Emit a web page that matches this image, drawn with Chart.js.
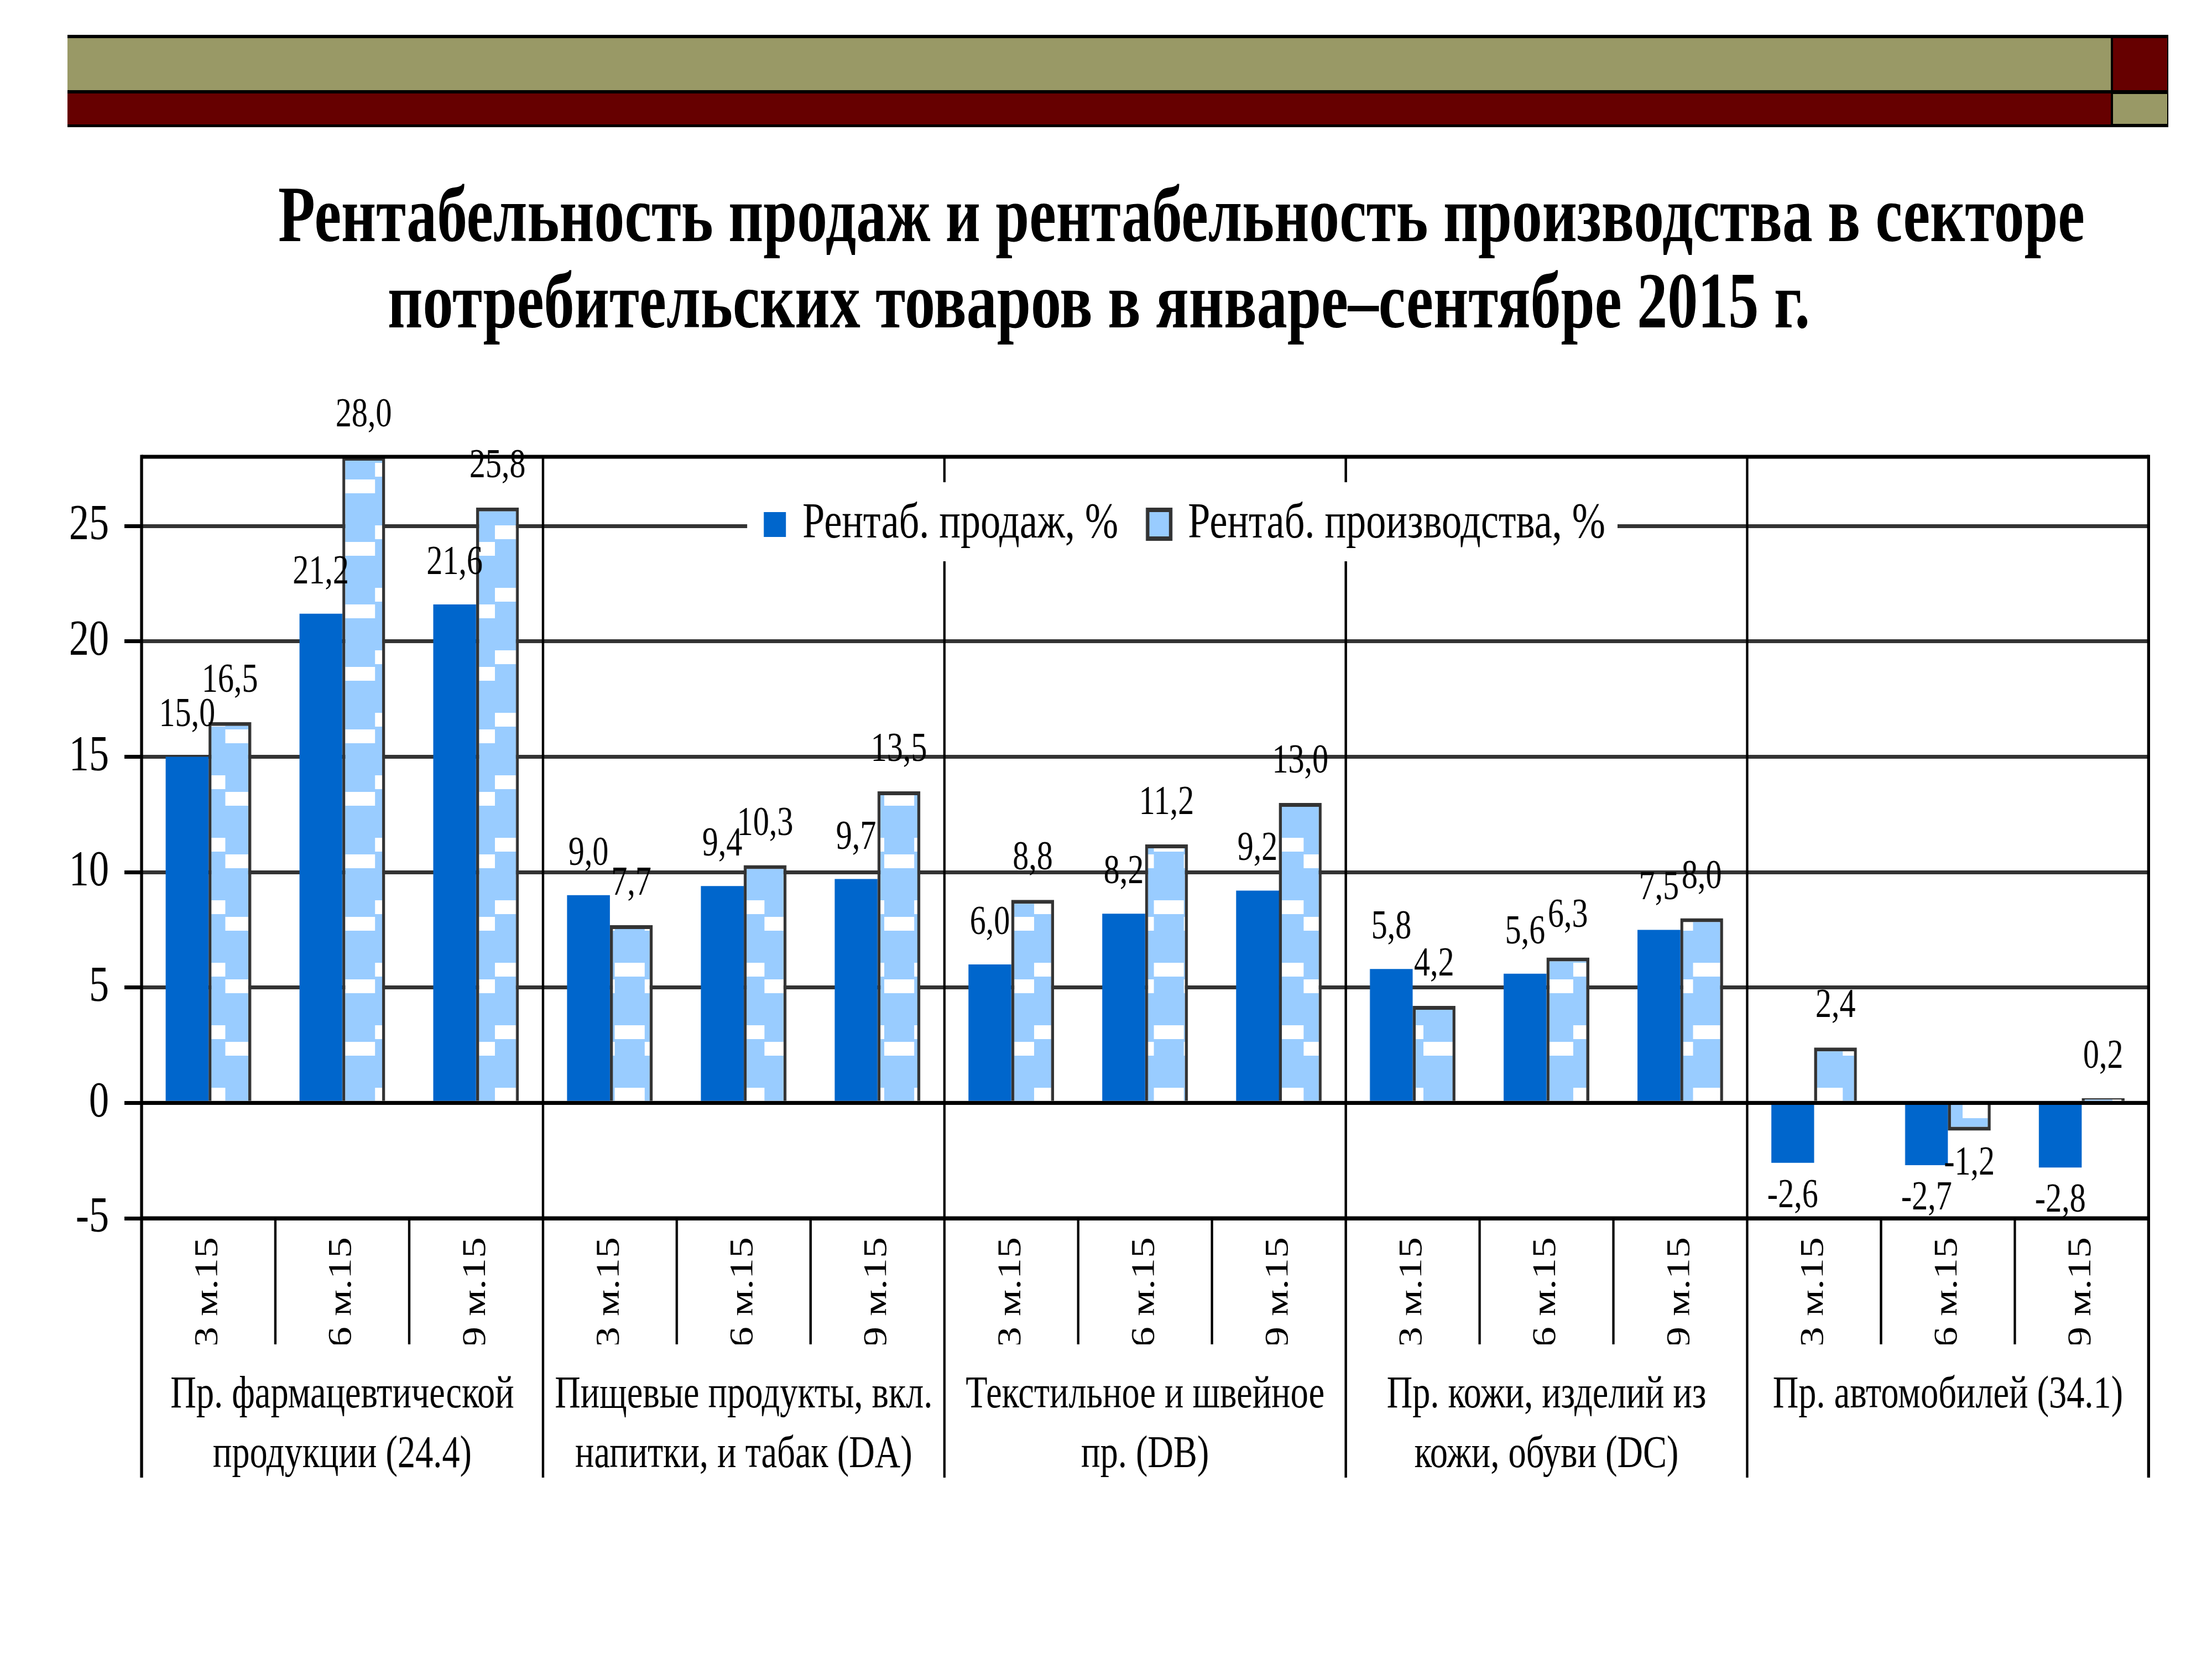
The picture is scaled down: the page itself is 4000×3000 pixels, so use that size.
<!DOCTYPE html>
<html>
<head>
<meta charset="utf-8">
<script src="https://cdn.jsdelivr.net/npm/chart.js@4.4.1/dist/chart.umd.min.js"></script>
<style>
html,body{margin:0;padding:0;background:#fff;overflow:hidden;width:4000px;height:3000px;}
#page{position:relative;width:4000px;height:3000px;overflow:hidden;background:#fff;}
.blk{position:absolute;}
.ttl{position:absolute;white-space:nowrap;font-family:'Liberation Serif','Times New Roman',serif;font-weight:bold;font-size:143px;line-height:143px;color:#000;transform-origin:0 0;}
#stage{position:absolute;left:0;top:700px;width:5096px;height:2000px;transform:scaleX(0.785);transform-origin:0 0;}
</style>
</head>
<body>
<div id="page">
  <div class="blk" style="left:122px;top:63px;width:3799px;height:167px;background:#000;"></div>
  <div class="blk" style="left:122px;top:69px;width:3695px;height:94px;background:#999966;"></div>
  <div class="blk" style="left:3821px;top:69px;width:98px;height:94px;background:#660000;"></div>
  <div class="blk" style="left:122px;top:169px;width:3695px;height:56px;background:#660000;"></div>
  <div class="blk" style="left:3821px;top:170px;width:98px;height:54px;background:#999966;"></div>
  <div class="ttl" id="t1" style="left:503px;top:317px;">Рентабельность продаж и рентабельность производства в секторе</div>
  <div class="ttl" id="t2" style="left:701px;top:473px;">потребительских товаров в январе–сентябре 2015 г.</div>
  <div id="stage"><canvas id="c"></canvas></div>
</div>
<script>
const categories = ['3 м.15','6 м.15','9 м.15','3 м.15','6 м.15','9 м.15','3 м.15','6 м.15','9 м.15','3 м.15','6 м.15','9 м.15','3 м.15','6 м.15','9 м.15'];
const groupLabels = [
  ['Пр. фармацевтической','продукции (24.4)'],
  ['Пищевые продукты, вкл.','напитки, и табак (DA)'],
  ['Текстильное и швейное','пр. (DB)'],
  ['Пр. кожи, изделий из','кожи, обуви (DC)'],
  ['Пр. автомобилей (34.1)']
];
const seriesNames = ['Рентаб. продаж, %','Рентаб. производства, %'];
const salesProfit = [15.0,21.2,21.6,9.0,9.4,9.7,6.0,8.2,9.2,5.8,5.6,7.5,-2.6,-2.7,-2.8];
const productionProfit = [16.5,28.0,25.8,7.7,10.3,13.5,8.8,11.2,13.0,4.2,6.3,8.0,2.4,-1.2,0.2];
const yTicks = [-5,0,5,10,15,20,25];

const S = 0.785, TOP0 = 700;
const FONT = '"Liberation Serif", "Times New Roman", serif';

function fitTitle(id, target){
  const el = document.getElementById(id);
  el.style.transform = 'none';
  const w = el.getBoundingClientRect().width;
  el.style.transform = 'scaleX(' + (target / w) + ')';
}
function fitTitles(){ fitTitle('t1', 3267); fitTitle('t2', 2572); }
fitTitles();
if (document.fonts && document.fonts.ready) document.fonts.ready.then(fitTitles);

const canvas = document.getElementById('c');
const mainCtx = canvas.getContext('2d');
function makePattern(){
  const tw = Math.round(108 / S), th = 113;
  const c = document.createElement('canvas');
  c.width = tw; c.height = th;
  const g = c.getContext('2d');
  g.fillStyle = '#99CCFF'; g.fillRect(0, 0, tw, th);
  g.fillStyle = '#FFFFFF';
  g.fillRect(0, 0, tw / 2, 25);
  g.fillRect(tw / 2, 30, tw / 2, 25);
  const p = mainCtx.createPattern(c, 'repeat');
  if (p.setTransform) p.setTransform(new DOMMatrix([1, 0, 0, 1, 36, 24]));
  return p;
}
const pattern = makePattern();

Chart.defaults.font.family = FONT;
Chart.defaults.color = '#000';

const fmt = v => v.toFixed(1).replace('.', ',');

const decor = {
  id: 'decor',
  afterDatasetsDraw(chart){
    const ctx = chart.ctx, a = chart.chartArea, xs = chart.scales.x, ys = chart.scales.y;
    ctx.save();
    ctx.fillStyle = '#000';
    const y0 = ys.getPixelForValue(0);
    ctx.fillRect(a.left, y0 - 3.5, a.right - a.left, 7);
    ctx.fillRect(a.left, a.top - 3.5, a.right - a.left, 7);
    ctx.fillRect(a.left, a.bottom - 3.5, a.right - a.left, 7);
    const yEnd = 2672 - TOP0, ySep = 2431 - TOP0;
    ctx.fillRect(a.left - 3.5, a.top - 3.5, 7, yEnd - a.top + 3.5);
    ctx.fillRect(a.right - 3.5, a.top - 3.5, 7, yEnd - a.top + 3.5);
    const n = categories.length;
    for (let i = 1; i < n; i++) {
      const x = (xs.getPixelForValue(i - 1) + xs.getPixelForValue(i)) / 2;
      if (i % 3 === 0) ctx.fillRect(x - 2.75, a.top, 5.5, yEnd - a.top);
      else ctx.fillRect(x - 2.75, a.bottom, 5.5, ySep - a.bottom);
    }
    ctx.font = '74px ' + FONT;
    ctx.textAlign = 'center';
    ctx.textBaseline = 'alphabetic';
    chart.data.datasets.forEach((ds, di) => {
      const meta = chart.getDatasetMeta(di);
      meta.data.forEach((bar, i) => {
        const v = ds.data[i];
        const t = fmt(v);
        if (v >= 0) ctx.fillText(t, bar.x, bar.y - 55);
        else ctx.fillText(t, bar.x, bar.y + 80);
      });
    });
    ctx.restore();
  },
  afterDraw(chart){
    const ctx = chart.ctx;
    ctx.save();
    ctx.font = '92px ' + FONT;
    const t1 = chart.data.datasets[0].label, t2 = chart.data.datasets[1].label;
    const w1 = ctx.measureText(t1).width, w2 = ctx.measureText(t2).width;
    const padL = 30 / S, sw1 = 40 / S, g1 = 30 / S, g2 = 50 / S, sw2 = 48 / S, g3 = 28 / S, padR = 22 / S;
    const total = padL + sw1 + g1 + w1 + g2 + sw2 + g3 + w2 + padR;
    const boxL = 2138 / S - total / 2;
    ctx.fillStyle = '#fff';
    ctx.fillRect(boxL, 172, total, 143);
    let x = boxL + padL;
    ctx.fillStyle = chart.data.datasets[0].backgroundColor;
    ctx.fillRect(x, 226, sw1, 45);
    x += sw1 + g1;
    ctx.fillStyle = '#000';
    ctx.textAlign = 'left';
    ctx.textBaseline = 'alphabetic';
    ctx.fillText(t1, x, 272);
    x += w1 + g2;
    ctx.fillStyle = '#99CCFF';
    ctx.fillRect(x, 218, sw2, 60);
    ctx.strokeStyle = '#333';
    ctx.lineWidth = 8;
    ctx.strokeRect(x + 4, 222, sw2 - 8, 52);
    x += sw2 + g3;
    ctx.fillStyle = '#000';
    ctx.fillText(t2, x, 272);
    ctx.restore();
  }
};

new Chart(canvas, {
  type: 'bar',
  data: {
    labels: categories,
    datasets: [
      { label: seriesNames[0], data: salesProfit, backgroundColor: '#0066CC', borderWidth: 0,
        categoryPercentage: 0.64, barPercentage: 1.0 },
      { label: seriesNames[1], data: productionProfit, backgroundColor: pattern, borderColor: '#333333',
        borderWidth: 7, borderSkipped: 'start', categoryPercentage: 0.64, barPercentage: 1.0 }
    ]
  },
  options: {
    responsive: true,
    maintainAspectRatio: false,
    animation: false,
    layout: { padding: { top: 126, right: 146.5, left: 0, bottom: 0 } },
    plugins: { legend: { display: false }, tooltip: { enabled: false } },
    scales: {
      x: {
        type: 'category', position: 'bottom', weight: 0, offset: true,
        grid: { display: false }, border: { display: false },
        ticks: { autoSkip: false, minRotation: 90, maxRotation: 90, padding: 26, color: '#000', font: { size: 76 } },
        afterFit: s => { s.height = 228; }
      },
      x2: {
        type: 'category', position: 'bottom', weight: 1, labels: groupLabels, offset: true,
        grid: { display: false }, border: { display: false },
        ticks: { autoSkip: false, minRotation: 0, maxRotation: 0, padding: 30, color: '#000',
                 font: { size: 82, lineHeight: 108 / 82 } },
        afterFit: s => { s.height = 269; }
      },
      y: {
        type: 'linear', position: 'left', min: -5, max: 28,
        border: { display: false },
        grid: {
          color: c => (c.tick && (c.tick.value === 0 || c.tick.value === -5)) ? '#000' : '#333',
          lineWidth: 7, drawTicks: true, tickLength: 39.5, tickColor: '#000', tickWidth: 7
        },
        ticks: { color: '#000', font: { size: 92 }, padding: 35.6 },
        afterBuildTicks: s => { s.ticks = yTicks.map(v => ({ value: v })); },
        afterFit: s => { s.width = 326.1; }
      }
    }
  },
  plugins: [decor]
});
</script>
</body>
</html>
